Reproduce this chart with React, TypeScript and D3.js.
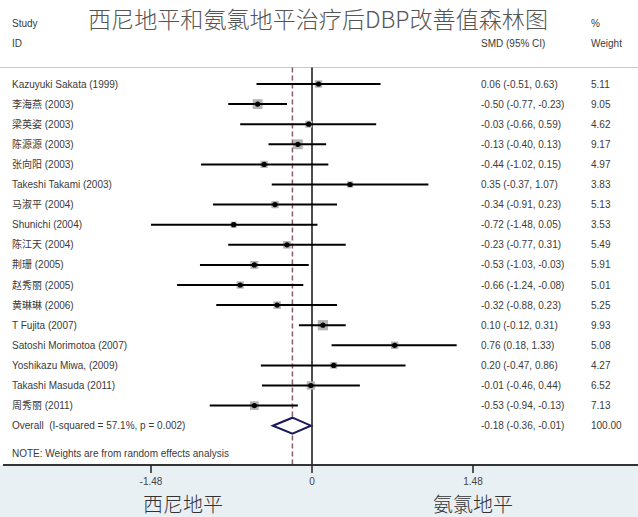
import React from "react";
import * as d3 from "d3";

const studies = [
  "Kazuyuki Sakata (1999)",
  "李海燕 (2003)",
  "梁英姿 (2003)",
  "陈源源 (2003)",
  "张向阳 (2003)",
  "Takeshi Takami (2003)",
  "马淑平 (2004)",
  "Shunichi (2004)",
  "陈江天 (2004)",
  "荆珊 (2005)",
  "赵秀丽 (2005)",
  "黄琳琳 (2006)",
  "T Fujita (2007)",
  "Satoshi Morimotoa (2007)",
  "Yoshikazu Miwa, (2009)",
  "Takashi Masuda (2011)",
  "周秀丽 (2011)",
];
const smd = [0.06, -0.5, -0.03, -0.13, -0.44, 0.35, -0.34, -0.72, -0.23, -0.53, -0.66, -0.32, 0.1, 0.76, 0.2, -0.01, -0.53];
const lower = [-0.51, -0.77, -0.66, -0.4, -1.02, -0.37, -0.91, -1.48, -0.77, -1.03, -1.24, -0.88, -0.12, 0.18, -0.47, -0.46, -0.94];
const upper = [0.63, -0.23, 0.59, 0.13, 0.15, 1.07, 0.23, 0.05, 0.31, -0.03, -0.08, 0.23, 0.31, 1.33, 0.86, 0.44, -0.13];
const weights = [5.11, 9.05, 4.62, 9.17, 4.97, 3.83, 5.13, 3.53, 5.49, 5.91, 5.01, 5.25, 9.93, 5.08, 4.27, 6.52, 7.13];

const overallLabel = "Overall  (I-squared = 57.1%, p = 0.002)";
const overall = { est: -0.18, lo: -0.36, hi: -0.01, weight: "100.00" };
const tickValues = [-1.48, 0, 1.48];
const tickLabels = ["-1.48", "0", "1.48"];
const title = "西尼地平和氨氯地平治疗后DBP改善值森林图";
const leftLabel = "西尼地平";
const rightLabel = "氨氯地平";
const note = "NOTE: Weights are from random effects analysis";

const W = 638;
const H = 517;
const FONT = "'Liberation Sans', Arial, 'Noto Sans CJK SC', sans-serif";
const CJK = "'Noto Sans CJK SC', sans-serif";
const TXT = "#3a3a3a";

const fmt = (v: number) => v.toFixed(2);

export default function App() {
  const x = d3.scaleLinear().domain([-1.48, 1.48]).range([151, 473]);
  const y = d3.scaleLinear().domain([0, 17]).range([84, 425.7]);
  const boxSide = (w: number) => 3.25 * Math.sqrt(w);

  const axisY = 465;
  const topLineY = 67.5;
  const oy = y(17);
  const diamond = [
    [x(overall.lo), oy],
    [x(overall.est), oy - 8],
    [x(overall.hi), oy],
    [x(overall.est), oy + 8],
  ];

  return (
    <div style={{ position: "fixed", left: 0, top: 0 }}>
      <svg width={W} height={H} style={{ display: "block" }}>
        <rect x={0} y={0} width={W} height={H} fill="#ffffff" />
        <rect x={0} y={axisY} width={W} height={H - axisY} fill="#e9f0f3" />

        <text x={88} y={28} fontFamily={CJK} fontSize={23} fontWeight={300} fill="#555" textLength={460} lengthAdjust="spacingAndGlyphs">
          {title}
        </text>

        <text x={12} y={27} fontFamily={FONT} fontSize={10} fill={TXT}>Study</text>
        <text x={12} y={47} fontFamily={FONT} fontSize={10} fill={TXT}>ID</text>
        <text x={481} y={47} fontFamily={FONT} fontSize={10} fill={TXT}>SMD (95% CI)</text>
        <text x={591} y={27} fontFamily={FONT} fontSize={10} fill={TXT}>%</text>
        <text x={591} y={47} fontFamily={FONT} fontSize={10} fill={TXT}>Weight</text>

        <line x1={0} x2={W} y1={topLineY} y2={topLineY} stroke="#c8c8c8" strokeWidth={1.2} />

        <line x1={x(overall.est)} x2={x(overall.est)} y1={topLineY} y2={axisY} stroke="#8a5a66" strokeWidth={1.5} strokeDasharray="5,3" />
        <line x1={x(0)} x2={x(0)} y1={topLineY} y2={axisY} stroke="#111" strokeWidth={1.5} />

        {studies.map((s, i) => {
          const cy = y(i);
          const b = boxSide(weights[i]);
          return (
            <g key={i}>
              <text x={12} y={cy + 3.5} fontFamily={FONT} fontSize={10} fill={TXT}>{s}</text>
              <rect x={x(smd[i]) - b / 2} y={cy - b / 2} width={b} height={b} fill="#b4b4b4" />
              <line x1={x(lower[i])} x2={x(upper[i])} y1={cy} y2={cy} stroke="#000" strokeWidth={2} />
              <circle cx={x(smd[i])} cy={cy} r={2.6} fill="#000" />
              <text x={481} y={cy + 3.5} fontFamily={FONT} fontSize={10} fill={TXT}>
                {`${fmt(smd[i])} (${fmt(lower[i])}, ${fmt(upper[i])})`}
              </text>
              <text x={591} y={cy + 3.5} fontFamily={FONT} fontSize={10} fill={TXT}>{fmt(weights[i])}</text>
            </g>
          );
        })}

        <text x={12} y={oy + 3.5} fontFamily={FONT} fontSize={10} fill={TXT} style={{ whiteSpace: "pre" }}>{overallLabel}</text>
        <polygon points={diamond.map((p) => p.join(",")).join(" ")} fill="#fff" stroke="#1a1a5c" strokeWidth={2} />
        <text x={481} y={oy + 3.5} fontFamily={FONT} fontSize={10} fill={TXT}>
          {`${fmt(overall.est)} (${fmt(overall.lo)}, ${fmt(overall.hi)})`}
        </text>
        <text x={591} y={oy + 3.5} fontFamily={FONT} fontSize={10} fill={TXT}>{overall.weight}</text>

        <text x={12} y={457} fontFamily={FONT} fontSize={10} fill={TXT}>{note}</text>

        <line x1={3} x2={W} y1={axisY} y2={axisY} stroke="#333" strokeWidth={2} />
        {tickValues.map((t, i) => (
          <g key={i}>
            <line x1={x(t)} x2={x(t)} y1={axisY} y2={axisY + 8} stroke="#222" strokeWidth={1.5} />
            <text x={x(t)} y={axisY + 20} textAnchor="middle" fontFamily={FONT} fontSize={10} fill="#444">{tickLabels[i]}</text>
          </g>
        ))}

        <text x={183} y={512} textAnchor="middle" fontFamily={CJK} fontSize={20} fontWeight={300} fill="#333">{leftLabel}</text>
        <text x={473} y={512} textAnchor="middle" fontFamily={CJK} fontSize={20} fontWeight={300} fill="#333">{rightLabel}</text>
      </svg>
    </div>
  );
}
